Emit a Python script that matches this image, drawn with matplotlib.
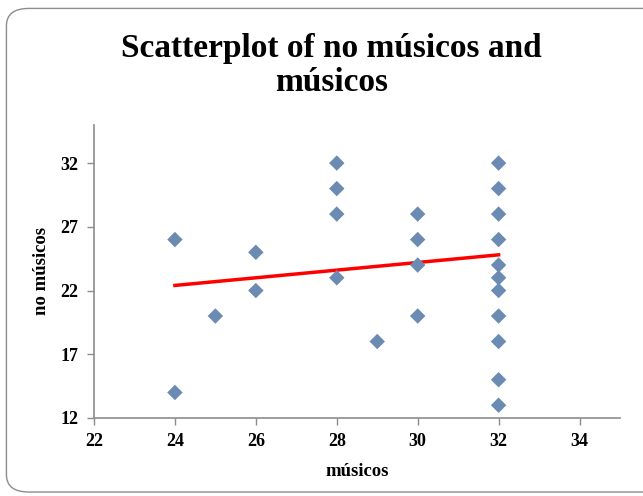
import matplotlib
matplotlib.use("Agg")
import matplotlib.pyplot as plt
from matplotlib.patches import FancyBboxPatch

# Data
musicos = [24, 24, 25, 26, 26, 28, 28, 28, 28, 29, 30, 30, 30, 30,
           32, 32, 32, 32, 32, 32, 32, 32, 32, 32, 32]
no_musicos = [26, 14, 20, 25, 22, 32, 30, 28, 23, 18, 28, 26, 24, 20,
              32, 30, 28, 26, 24, 23, 22, 20, 18, 15, 13]

# trend line as drawn in the reference
trend_x = [24, 32]
trend_y = [22.4, 24.8]

xticks = [22, 24, 26, 28, 30, 32, 34]
yticks = [12, 17, 22, 27, 32]

plt.rcParams.update({
    'font.family': ['Liberation Serif', 'DejaVu Serif'],
    'font.weight': 'bold',
})

fig = plt.figure(figsize=(6.43, 4.96), dpi=100)

# rounded frame around the chart
frame = FancyBboxPatch((0.010, 0.008), 1.05, 0.975,
                       boxstyle="round,pad=0,rounding_size=0.035",
                       transform=fig.transFigure, fill=False,
                       edgecolor="#8c8c8c", linewidth=1.0)
fig.patches.append(frame)

ax = fig.add_axes([0.1462, 0.1573, 0.818, 0.591])

ax.scatter(musicos, no_musicos, marker='D', s=62, color="#6c8bb3",
           edgecolors='none', zorder=3)
ax.plot(trend_x, trend_y, color="#ff0000", linewidth=2.5, zorder=2)

ax.set_xlim(22, 35)
ax.set_ylim(12, 35)
ax.set_xticks(xticks)
ax.set_yticks(yticks)

for side in ['top', 'right']:
    ax.spines[side].set_visible(False)
for side in ['left', 'bottom']:
    ax.spines[side].set_color("#8c8c8c")
    ax.spines[side].set_linewidth(1.2)

ax.tick_params(axis='both', direction='out', length=5, width=1,
               color="#8c8c8c", labelsize=13, pad=6)
for lab in ax.get_xticklabels() + ax.get_yticklabels():
    lab.set_fontweight('bold')

ax.set_xlabel('músicos', fontsize=13.5, fontweight='bold', labelpad=9)
ax.set_ylabel('no músicos', fontsize=13.5, fontweight='bold', labelpad=8)

fig.text(0.515, 0.868, 'Scatterplot of no músicos and\nmúsicos',
         ha='center', va='center', fontsize=24, fontweight='bold',
         linespacing=1.15)

fig.savefig("out.png", dpi=100)
